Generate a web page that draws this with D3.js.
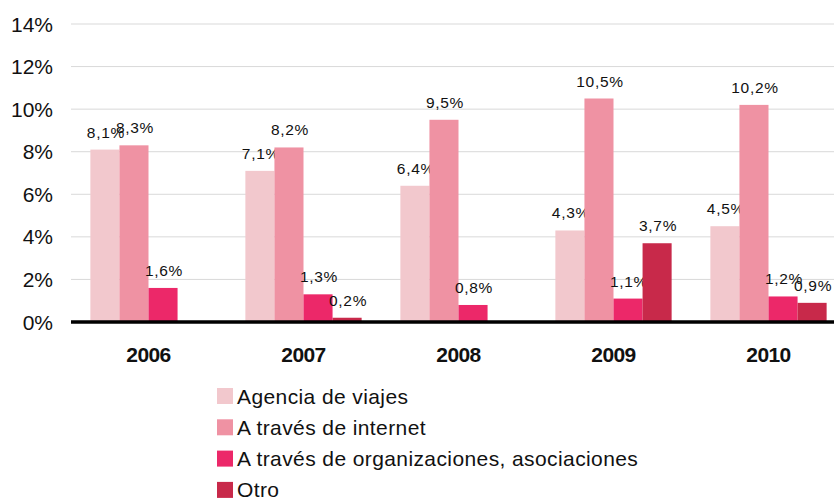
<!DOCTYPE html>
<html>
<head>
<meta charset="utf-8">
<script src="https://cdn.jsdelivr.net/npm/d3@7"></script>
<style>
  body { margin: 0; background: #fff; }
  svg { display: block; font-family: "Liberation Sans", Arial, Helvetica, sans-serif; }
</style>
</head>
<body>
<svg width="834" height="498"></svg>
<script>
var years = ["2006", "2007", "2008", "2009", "2010"];
var seriesNames = ["Agencia de viajes", "A través de internet", "A través de organizaciones, asociaciones", "Otro"];
var agencia = [8.1, 7.1, 6.4, 4.3, 4.5];
var internet = [8.3, 8.2, 9.5, 10.5, 10.2];
var organizaciones = [1.6, 1.3, 0.8, 1.1, 1.2];
var otro = [null, 0.2, null, 3.7, 0.9];
var yTicks = [0, 2, 4, 6, 8, 10, 12, 14];
var colors = ["#f2c8cd", "#ef92a3", "#ec2869", "#c8294a"];

var series = [agencia, internet, organizaciones, otro];

var svg = d3.select("svg"),
    width = +svg.attr("width");

var x0 = d3.scaleBand()
    .domain(years)
    .range([71, 846])
    .paddingInner(0.25)
    .paddingOuter(0.125);

var x1 = d3.scaleBand()
    .domain(d3.range(series.length))
    .range([0, x0.bandwidth()]);

var y = d3.scaleLinear()
    .domain([0, 14])
    .range([322, 24]);

var fmt = function(v) { return d3.format(".1f")(v).replace(".", ",") + "%"; };

// gridlines
svg.append("g")
  .selectAll("line")
  .data(yTicks.slice(1))
  .enter().append("line")
    .attr("x1", 71)
    .attr("x2", width)
    .attr("y1", function(d) { return y(d); })
    .attr("y2", function(d) { return y(d); })
    .attr("stroke", "#d9d9d9")
    .attr("stroke-width", 1);

// y tick labels
svg.append("g")
  .selectAll("text")
  .data(yTicks)
  .enter().append("text")
    .attr("x", 53)
    .attr("y", function(d) { return y(d) + 7.5; })
    .attr("text-anchor", "end")
    .style("font-size", "21px")
    .attr("fill", "#111")
    .text(function(d) { return d + "%"; });

// bars
var groups = svg.append("g")
  .selectAll("g")
  .data(years)
  .enter().append("g")
    .attr("transform", function(d) { return "translate(" + x0(d) + ",0)"; });

var cells = groups.selectAll("g")
  .data(function(d, i) {
    return series.map(function(s, k) { return { k: k, v: s[i] }; })
      .filter(function(c) { return c.v != null; });
  })
  .enter().append("g");

cells.append("rect")
    .attr("x", function(d) { return x1(d.k); })
    .attr("width", x1.bandwidth())
    .attr("y", function(d) { return y(d.v); })
    .attr("height", function(d) { return y(0) - y(d.v); })
    .attr("fill", function(d) { return colors[d.k]; });

cells.append("text")
    .attr("x", function(d) { return x1(d.k) + x1.bandwidth() / 2 + 1; })
    .attr("y", function(d) { return y(d.v) - 12; })
    .attr("text-anchor", "middle")
    .style("font-size", "15.5px")
    .style("letter-spacing", "0.7px")
    .attr("fill", "#111")
    .text(function(d) { return fmt(d.v); });

// baseline
svg.append("line")
    .attr("x1", 71)
    .attr("x2", width)
    .attr("y1", y(0))
    .attr("y2", y(0))
    .attr("stroke", "#000")
    .attr("stroke-width", 3.5);

// year labels
svg.append("g")
  .selectAll("text")
  .data(years)
  .enter().append("text")
    .attr("x", function(d) { return x0(d) + x0.bandwidth() / 2; })
    .attr("y", 362)
    .attr("text-anchor", "middle")
    .style("font-size", "21px")
    .style("font-weight", "bold")
    .style("letter-spacing", "-0.6px")
    .attr("fill", "#111")
    .text(function(d) { return d; });

// legend
var legend = svg.append("g")
  .selectAll("g")
  .data(seriesNames)
  .enter().append("g")
    .attr("transform", function(d, i) { return "translate(217," + (388 + i * 31.3) + ")"; });

legend.append("rect")
    .attr("width", 16)
    .attr("height", 16)
    .attr("fill", function(d, i) { return colors[i]; });

legend.append("text")
    .attr("x", 20)
    .attr("y", 15.5)
    .style("font-size", "21px")
    .style("letter-spacing", "0.4px")
    .attr("fill", "#111")
    .text(function(d) { return d; });
</script>
</body>
</html>
